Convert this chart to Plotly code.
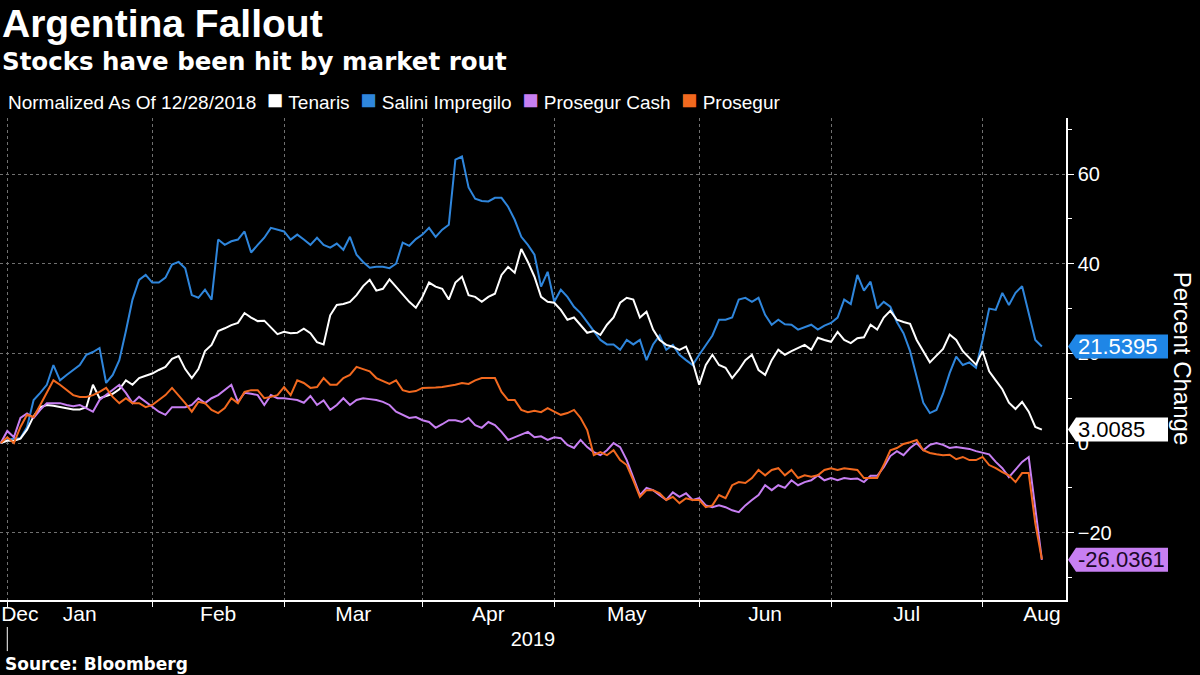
import pandas as pd
import plotly.graph_objects as go

# ---------------- data ----------------
holidays = ["2018-12-31", "2019-01-01", "2019-04-19", "2019-04-22", "2019-05-01"]
dates = pd.bdate_range("2018-12-28", "2019-08-14", freq="C", holidays=holidays)

tenaris = [
    0, 0.5, 0.5, 1.0, 3.0, 6.0, 8.0, 8.5, 8.3, 8.0,
    7.7, 7.5, 7.5, 8.0, 13.0, 10.0, 10.5, 11.0, 12.0, 14.0,
    13.0, 14.5, 15.0, 15.5, 16.3, 17.0, 18.8, 19.4, 16.5, 14.5,
    16.5, 20.5, 21.9, 25.0, 25.6, 26.3, 26.8, 29.0, 28.0, 27.2,
    27.3, 25.8, 24.3, 24.8, 24.5, 24.6, 25.5, 24.5, 22.5, 22.0,
    28.5, 30.8, 31.0, 31.5, 33.0, 35.0, 36.4, 34.0, 34.4, 36.5,
    34.8, 33.0, 31.5, 30.2, 32.6, 35.8, 34.9, 34.4, 32.0, 35.8,
    37.1, 33.0, 32.6, 31.5, 32.6, 33.3, 37.5, 39.3, 38.0, 43.3,
    40.4, 37.1, 32.6, 31.5, 31.3, 29.7, 27.5, 28.0, 26.4, 24.6,
    25.0, 24.1, 26.4, 28.0, 31.3, 32.4, 32.0, 28.0, 29.3, 25.3,
    23.0, 21.9, 21.5, 20.8, 21.5, 18.1, 13.0, 17.4, 19.7, 17.4,
    16.8, 14.5, 16.3, 18.5, 19.7, 16.3, 15.2, 18.5, 20.8, 19.7,
    20.5, 21.2, 21.9, 20.8, 23.5, 23.0, 22.6, 24.8, 23.0, 22.3,
    23.4, 23.6, 26.4, 25.3, 28.0, 29.5, 27.5, 27.0, 26.6, 23.0,
    20.5, 18.0, 19.5, 21.0, 24.2, 23.0, 20.5, 19.0, 17.5, 20.5,
    16.0, 14.0, 12.0, 9.0, 7.6, 9.2, 7.0, 3.6, 3.0085,
]

salini = [
    0, 0.7, 1.0, 1.1, 3.6, 9.6, 11.2, 13.0, 17.4, 14.0,
    15.2, 16.3, 17.4, 19.7, 20.3, 21.2, 13.4, 15.2, 18.5, 25.0,
    32.0, 36.4, 37.5, 35.8, 35.8, 36.9, 39.8, 40.4, 39.0, 33.0,
    32.4, 34.2, 32.0, 45.4, 44.2, 45.0, 45.4, 47.2, 42.5, 44.2,
    45.8, 48.0, 47.6, 47.2, 45.4, 46.5, 45.4, 44.2, 45.8, 44.2,
    43.6, 44.5, 43.1, 46.0, 42.0, 40.4, 39.1, 39.3, 39.3, 39.0,
    40.0, 44.7, 44.0, 45.5, 46.5, 48.0, 46.0, 47.6, 48.7, 63.2,
    63.9, 57.0, 54.5, 54.0, 53.9, 54.7, 54.7, 52.7, 49.8, 46.0,
    44.2, 42.0, 34.9, 38.2, 31.5, 34.2, 32.6, 30.4, 29.0, 27.0,
    25.0, 23.0, 22.0, 22.0, 20.8, 23.0, 22.0, 23.0, 18.5, 22.0,
    24.0, 20.8, 21.9, 19.7, 18.5, 17.4, 19.7, 22.0, 24.0, 27.5,
    27.5, 28.0, 32.0, 32.4, 31.5, 32.4, 28.6, 26.4, 27.5, 26.5,
    26.4, 25.3, 25.8, 26.4, 25.3, 26.2, 26.8, 28.0, 32.0, 31.0,
    37.5, 34.0, 36.0, 30.0, 31.5, 30.4, 27.0, 24.5, 20.5, 15.0,
    9.0, 6.7, 7.4, 11.0, 15.6, 19.3, 17.4, 18.0, 16.8, 23.0,
    30.0, 29.7, 33.5, 30.8, 33.5, 35.0, 29.0, 23.0, 21.5395,
]

prosegur_cash = [
    0, 2.7, 1.3, 5.6, 6.6, 5.6, 7.4, 8.9, 8.9, 8.9,
    8.5, 8.2, 8.5, 7.8, 7.0, 9.6, 10.7, 11.8, 13.0, 11.2,
    8.9, 10.3, 9.2, 8.0, 7.0, 6.3, 8.0, 8.0, 8.0, 8.5,
    10.0, 8.9, 10.0, 10.7, 11.8, 13.0, 9.2, 11.2, 11.0, 10.7,
    8.5, 10.7, 10.0, 10.0, 9.8, 9.6, 9.0, 10.5, 8.5, 9.5,
    7.4, 8.5, 10.0, 8.5, 9.6, 10.0, 9.8, 9.6, 9.2, 8.5,
    7.0, 6.3, 5.6, 5.8, 5.1, 4.7, 3.4, 4.2, 5.1, 5.1,
    4.7, 5.6, 4.0, 3.4, 4.7, 4.0, 2.5, 0.7, 1.3, 1.8,
    2.5, 1.3, 1.5, 0.7, 1.3, 1.1, -0.4, -1.1, 0.7, -0.9,
    -2.0, -2.7, -1.6, 0.0, -0.9, -3.8, -7.8, -11.6, -10.0, -10.5,
    -11.6, -12.7, -11.0, -12.0, -11.2, -12.7, -12.3, -13.9, -14.3, -13.9,
    -14.3, -15.0, -15.4, -13.9, -12.7, -11.6, -9.4, -10.5, -9.4, -10.0,
    -8.3, -9.4, -8.7, -8.3, -7.2, -8.3, -7.8, -8.3, -7.8, -8.0,
    -7.9, -8.7, -7.3, -7.3, -5.4, -2.9, -1.8, -2.7, -1.1, 0.0,
    -1.6, -0.4, 0.0, -0.4, -1.1, -0.9, -1.1, -1.3, -1.8, -2.2,
    -2.5, -4.2, -5.6, -7.6, -6.0, -4.2, -3.1, -14.3, -26.0361,
]

prosegur = [
    0, 1.3, 0.0, 3.6, 6.3, 5.8, 8.5, 11.2, 14.0, 13.0,
    11.8, 10.7, 10.3, 10.3, 10.7, 11.4, 12.3, 10.3, 8.9, 10.0,
    8.9, 8.9, 8.0, 8.5, 9.6, 10.7, 12.3, 10.7, 8.9, 7.0,
    9.2, 8.9, 7.4, 6.7, 7.8, 10.0, 8.9, 11.4, 11.8, 11.8,
    10.0, 10.3, 10.7, 12.5, 10.7, 14.0, 13.4, 12.3, 12.5, 14.5,
    13.0, 13.0, 14.5, 15.2, 17.0, 16.5, 16.0, 14.5, 13.8, 13.2,
    14.0, 11.8, 11.4, 11.6, 12.3, 12.3, 12.4, 12.5, 12.7, 13.0,
    13.4, 13.2, 14.0, 14.5, 14.5, 14.5, 11.4, 9.6, 9.6, 7.4,
    6.9, 7.2, 6.9, 7.8, 7.0, 6.3, 6.7, 7.4, 5.6, 2.9,
    -2.7, -2.0, -2.7, -1.6, -3.8, -4.9, -8.3, -12.0, -10.5, -10.5,
    -11.2, -12.7, -12.0, -13.4, -12.3, -12.7, -12.7, -14.3, -13.9, -11.6,
    -12.3, -9.4, -8.7, -8.9, -7.8, -6.0, -7.2, -6.0, -5.6, -7.2,
    -6.0, -7.8, -7.2, -7.5, -7.2, -6.0, -5.6, -6.0, -5.6, -5.8,
    -6.0, -7.8, -7.8, -7.8, -4.9, -1.6, -1.1, -0.2, 0.2, 0.7,
    -1.6, -2.2, -2.5, -2.7, -2.6, -3.6, -3.1, -3.8, -3.8, -3.1,
    -4.9, -5.6, -6.5, -7.2, -8.7, -6.7, -6.7, -17.9, -25.9,
]

series_names = ["Tenaris", "Salini Impregilo", "Prosegur Cash", "Prosegur"]
series_values = [tenaris, salini, prosegur_cash, prosegur]
month_labels = ["Dec", "Jan", "Feb", "Mar", "Apr", "May", "Jun", "Jul", "Aug"]
y_ticks = [-20, 0, 20, 40, 60]
legend_title = "Normalized As Of 12/28/2018"

# ---------------- styles ----------------
colors = {"Tenaris": "#ffffff", "Salini Impregilo": "#2f86dc",
          "Prosegur Cash": "#c77ff2", "Prosegur": "#f2691f"}
tag_style = {"Salini Impregilo": ("#1f86e6", "#ffffff"),
             "Tenaris": ("#ffffff", "#000000"),
             "Prosegur Cash": ("#c77ff2", "#1a0826")}
FONT = "Liberation Sans, Arial, sans-serif"
BOLD_FONT = "DejaVu Sans, sans-serif"
GRID = "#707070"

for v in series_values:
    assert len(v) == len(dates)

# month boundaries (first trading day of each month) and label positions
starts = [i for i in range(1, len(dates)) if dates[i].month != dates[i - 1].month]


def pos_to_date(p):
    k = int(p)
    return dates[k] + pd.Timedelta(days=p - k)


label_pos = [2.9] + [(starts[j] + starts[j + 1]) / 2 for j in range(len(starts) - 1)] + [len(dates) - 1]
label_dates = [pos_to_date(p) for p in label_pos]
boundary_dates = [dates[i] for i in starts]

fig = go.Figure()
draw_order = ["Salini Impregilo", "Tenaris", "Prosegur Cash", "Prosegur"]
for name in draw_order:
    vals = series_values[series_names.index(name)]
    fig.add_trace(go.Scatter(x=dates, y=vals, mode="lines", name=name,
                             line=dict(color=colors[name], width=2),
                             showlegend=False, hoverinfo="skip"))

# value tags on the right axis
shapes = []
annotations = []
for name in ["Salini Impregilo", "Tenaris", "Prosegur Cash"]:
    last = series_values[series_names.index(name)][-1]
    bg, fg = tag_style[name]
    shapes.append(dict(type="path", xref="paper", xsizemode="pixel", xanchor=1,
                       yref="y", ysizemode="pixel", yanchor=last,
                       path="M 2,0 L 10,12 L 102,12 L 102,-12 L 10,-12 Z",
                       fillcolor=bg, line=dict(width=0), layer="above"))
    annotations.append(dict(xref="paper", x=1, xanchor="left", xshift=10,
                            yref="y", y=last, yanchor="middle", showarrow=False,
                            text=f"{last:.4f}", font=dict(family=FONT, size=22, color=fg)))

# year divider below the axis
shapes.append(dict(type="line", xref="x", x0=boundary_dates[0], x1=boundary_dates[0],
                   yref="paper", y0=-0.056, y1=-0.106, line=dict(color="white", width=1)))

# legend row (title + square swatches)
sp = "&nbsp;"
legend_html = legend_title
for name in series_names:
    legend_html += (sp * 2 + f"<span style='color:{colors[name]};font-size:27px'>■</span>"
                    + sp + name)

annotations += [
    dict(xref="paper", yref="paper", x=0, y=1.197, xanchor="left", yanchor="middle",
         text="<b>Argentina Fallout</b>", showarrow=False,
         font=dict(family=FONT, size=39, color="white")),
    dict(xref="paper", yref="paper", x=0, y=1.118, xanchor="left", yanchor="middle",
         text="<b>Stocks have been hit by market rout</b>", showarrow=False,
         font=dict(family=BOLD_FONT, size=24.5, color="white")),
    dict(xref="paper", yref="paper", x=0.006, y=1.037, xanchor="left", yanchor="middle",
         text=legend_html, showarrow=False,
         font=dict(family=FONT, size=19, color="white")),
    dict(xref="paper", yref="paper", x=0.003, y=-0.133, xanchor="left", yanchor="middle",
         text="<b>Source: Bloomberg</b>", showarrow=False,
         font=dict(family=BOLD_FONT, size=17, color="white")),
    dict(xref="paper", yref="paper", x=1.11, y=0.502, xanchor="center", yanchor="middle",
         text="Percent Change", textangle=90, showarrow=False,
         font=dict(family=FONT, size=24, color="white")),
]

fig.update_layout(
    width=1200, height=675,
    paper_bgcolor="black", plot_bgcolor="black",
    margin=dict(l=0, r=134, t=118, b=75),
    font=dict(family=FONT, color="white", size=19),
    showlegend=False,
    xaxis=dict(
        type="date", automargin=False,
        range=[pd.Timestamp("2018-12-27 21:28"), pd.Timestamp("2019-08-19 15:50")],
        rangebreaks=[dict(bounds=["sat", "mon"]), dict(values=holidays)],
        tickmode="array", tickvals=label_dates, ticktext=month_labels,
        ticks="", showgrid=False, zeroline=False, ticklabelstandoff=-6,
        showline=True, linecolor="white", linewidth=1.5,
        tickfont=dict(family=FONT, size=21, color="white"),
        minor=dict(tickmode="array", tickvals=boundary_dates, ticks="outside",
                   ticklen=5, tickwidth=1, tickcolor="white",
                   showgrid=True, gridcolor=GRID, griddash="dot", gridwidth=1),
        title=dict(text="2019", standoff=8, font=dict(family=FONT, size=20, color="white")),
    ),
    yaxis=dict(
        side="right", automargin=False, range=[-35, 72.5], tickmode="array", tickvals=y_ticks,
        ticks="outside", ticklen=6, tickwidth=1, tickcolor="white",
        showline=True, linecolor="white", linewidth=1.5,
        showgrid=True, gridcolor=GRID, griddash="dot", gridwidth=1, zeroline=False,
        tickfont=dict(family=FONT, size=20, color="white"),
        minor=dict(dtick=10, tick0=0, ticks="outside", ticklen=4, tickcolor="white",
                   showgrid=False),
    ),
    shapes=shapes,
    annotations=annotations,
    hovermode=False,
)

fig.write_html("out.html", config={"displayModeBar": False},
               post_script="document.body.style.margin='0px';document.body.style.padding='0px';")
